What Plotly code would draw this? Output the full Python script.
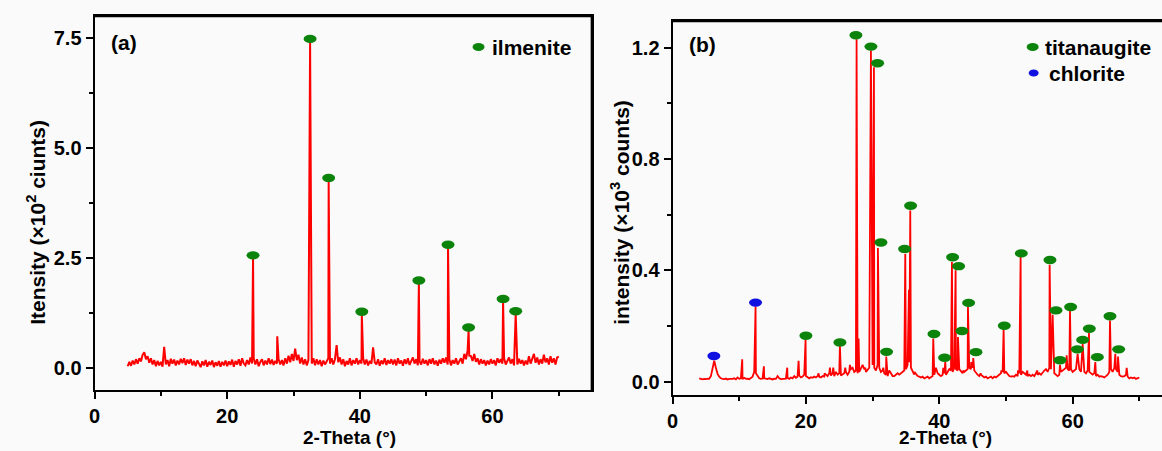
import plotly.graph_objects as go

# ---------------- Panel (a): ilmenite ----------------
a_start, a_step = 5.0, 0.25
a_base = [
    0.04,0.14,0.05,0.17,0.08,0.2,0.1,0.22,0.15,0.3,0.36,0.2,0.27,0.12,0.22,0.08,0.18,0.04,0.16,0.06,
    0.14,0.03,0.48,0.08,0.18,0.04,0.21,0.1,0.19,0.06,0.17,0.08,0.21,0.11,0.22,0.07,0.19,0.1,0.2,0.06,
    0.16,0.04,0.17,0.08,0.02,0.15,0.06,0.18,0.03,0.14,0.07,0.17,0.02,0.13,0.05,0.16,0.03,0.14,0.06,0.17,
    0.04,0.15,0.07,0.19,0.03,0.16,0.08,0.2,0.05,0.22,0.1,0.06,0.18,0.08,0.24,0.1,0.22,0.08,0.2,0.04,
    0.14,0.2,0.06,0.17,0.08,0.22,0.09,0.19,0.07,0.16,0.1,0.2,0.08,0.18,0.06,0.22,0.1,0.28,0.13,0.32,
    0.16,0.44,0.18,0.3,0.1,0.24,0.08,0.2,0.06,0.18,0.22,0.1,0.22,0.06,0.2,0.08,0.18,0.04,0.17,0.08,
    0.16,0.22,0.1,0.22,0.08,0.2,0.52,0.13,0.24,0.08,0.2,0.04,0.16,0.08,0.22,0.06,0.18,0.1,0.22,0.08,
    0.18,0.1,0.22,0.08,0.19,0.06,0.16,0.1,0.47,0.13,0.08,0.2,0.05,0.17,0.09,0.22,0.07,0.18,0.1,0.2,
    0.08,0.19,0.06,0.22,0.1,0.17,0.05,0.2,0.09,0.22,0.07,0.18,0.24,0.1,0.2,0.06,0.16,0.08,0.21,0.1,
    0.18,0.06,0.2,0.1,0.22,0.08,0.17,0.05,0.19,0.1,0.22,0.12,0.24,0.08,0.2,0.06,0.18,0.1,0.22,0.08,
    0.17,0.22,0.1,0.32,0.2,0.4,0.28,0.27,0.16,0.32,0.14,0.22,0.08,0.2,0.1,0.18,0.06,0.17,0.08,0.2,
    0.1,0.18,0.06,0.22,0.12,0.2,0.1,0.22,0.08,0.18,0.24,0.1,0.2,0.06,0.17,0.08,0.21,0.1,0.18,0.06,
    0.17,0.08,0.27,0.1,0.22,0.32,0.12,0.24,0.08,0.2,0.1,0.3,0.13,0.22,0.08,0.27,0.12,0.22,0.08,0.24,
    0.26,
]
a_peak_x = [23.9, 27.55, 32.5, 35.3, 40.3, 48.9, 53.3, 56.4, 61.6, 63.5]
a_peak_h = [2.5, 0.72, 7.42, 4.25, 1.22, 1.93, 2.74, 0.86, 1.51, 1.23]
a_mark_x = [23.9, 32.5, 35.3, 40.3, 48.9, 53.3, 56.4, 61.6, 63.5]
a_mark_y = [2.56, 7.48, 4.32, 1.28, 1.99, 2.80, 0.92, 1.57, 1.29]

# ---------------- Panel (b): titanaugite / chlorite ----------------
b_start, b_step = 4.0, 0.25
b_base = [
    0.012,0.01,0.008,0.01,0.009,0.011,0.01,0.02,0.045,0.075,0.05,0.028,0.018,0.012,0.01,0.009,0.011,0.008,0.01,0.009,
    0.01,0.012,0.008,0.015,0.01,0.012,0.009,0.014,0.01,0.011,0.009,0.012,0.018,0.035,0.03,0.02,0.012,0.01,0.011,0.012,
    0.011,0.009,0.012,0.01,0.008,0.011,0.01,0.02,0.012,0.009,0.01,0.012,0.011,0.013,0.01,0.015,0.012,0.02,0.014,0.018,
    0.022,0.015,0.018,0.025,0.02,0.015,0.012,0.016,0.014,0.018,0.015,0.02,0.017,0.015,0.02,0.018,0.025,0.02,0.03,0.022,
    0.03,0.02,0.035,0.025,0.03,0.022,0.025,0.03,0.035,0.025,0.035,0.045,0.05,0.035,0.04,0.03,0.035,0.05,0.035,0.045,
    0.035,0.045,0.05,0.07,0.06,0.05,0.04,0.06,0.05,0.035,0.04,0.03,0.025,0.02,0.025,0.03,0.02,0.02,0.025,0.03,
    0.025,0.03,0.035,0.04,0.045,0.06,0.07,0.05,0.035,0.025,0.03,0.02,0.018,0.015,0.018,0.012,0.015,0.018,0.012,0.015,
    0.02,0.025,0.045,0.03,0.025,0.02,0.025,0.03,0.025,0.035,0.045,0.04,0.035,0.05,0.045,0.04,0.045,0.035,0.03,0.035,
    0.04,0.045,0.05,0.045,0.05,0.04,0.03,0.025,0.02,0.025,0.018,0.015,0.018,0.012,0.015,0.018,0.012,0.018,0.015,0.02,
    0.025,0.03,0.035,0.03,0.035,0.025,0.02,0.018,0.02,0.018,0.025,0.02,0.03,0.025,0.035,0.03,0.025,0.02,0.025,0.02,
    0.025,0.02,0.03,0.025,0.03,0.025,0.035,0.04,0.045,0.035,0.05,0.045,0.035,0.03,0.025,0.02,0.025,0.035,0.04,0.045,
    0.05,0.045,0.04,0.045,0.035,0.04,0.045,0.05,0.045,0.035,0.04,0.035,0.03,0.04,0.035,0.03,0.025,0.03,0.02,0.025,
    0.018,0.02,0.018,0.015,0.02,0.025,0.035,0.045,0.035,0.05,0.045,0.035,0.025,0.02,0.018,0.02,0.025,0.018,0.012,0.015,
    0.012,0.015,0.01,0.012,0.015,
]
b_peak_x = [10.45, 12.45, 13.7, 17.2, 18.9, 19.95, 21.9, 22.8, 23.6, 24.1, 25.1, 25.9, 26.6,
            27.6, 27.9, 28.5, 28.9, 29.75, 30.2, 30.8, 31.6, 32.05, 32.5, 34.9, 35.45, 35.65,
            36.3, 39.1, 39.5, 40.6, 40.9, 41.9, 42.45, 42.8, 43.6, 44.3, 44.8, 45.1, 46.2,
            49.3, 49.65, 51.8, 52.2, 53.2, 54.7, 56.55, 57.0, 58.1, 59.1, 59.6, 60.75, 61.5,
            62.45, 63.4, 65.6, 66.4, 66.8, 68.1]
b_peak_h = [0.08, 0.27, 0.055, 0.05, 0.075, 0.15, 0.03, 0.03, 0.05, 0.05, 0.13, 0.05, 0.06,
            1.23, 0.155, 0.06, 0.05, 1.19, 1.13, 0.48, 0.05, 0.09, 0.04, 0.46, 0.33, 0.615,
            0.035, 0.155, 0.05, 0.05, 0.07, 0.43, 0.40, 0.16, 0.04, 0.27, 0.07, 0.085, 0.03,
            0.04, 0.19, 0.04, 0.45, 0.04, 0.04, 0.42, 0.24, 0.06, 0.095, 0.255, 0.10, 0.135,
            0.175, 0.07, 0.22, 0.10, 0.09, 0.05]
b_green_x = [20.0, 25.1, 27.5, 29.75, 30.75, 31.25, 32.1, 34.8, 35.7, 39.2, 40.8, 42.0, 42.9, 43.4,
             44.4, 45.5, 49.75, 52.3, 56.6, 57.5, 58.1, 59.7, 60.7, 61.5, 62.5, 63.7, 65.6, 66.9]
b_green_y = [0.165, 0.141, 1.245, 1.204, 1.144, 0.50, 0.107, 0.477, 0.632, 0.171, 0.086, 0.447,
             0.415, 0.182, 0.283, 0.106, 0.201, 0.461, 0.437, 0.256, 0.077, 0.268, 0.116, 0.15,
             0.19, 0.088, 0.235, 0.116]
b_blue_x = [6.2, 12.45]
b_blue_y = [0.092, 0.284]

# ---------------- labels ----------------
x_title = "2-Theta (°)"
a_y_title = "Itensity (×10<sup>2</sup> ciunts)"
b_y_title = "intensity (×10<sup>3</sup> counts)"
a_label, b_label = "(a)", "(b)"
a_legend = ["ilmenite"]
b_legend = ["titanaugite", "chlorite"]

RED = "#ff0000"
GREEN = "#0c840c"
BLUE = "#1010e0"
FONT = "Liberation Sans, Arial, sans-serif"
W, H = 1162, 451

# plot-area pixel boxes (left, right, top, bottom)
A_BOX = (89, 589, 16, 390)
B_BOX = (670, 1162, 21, 395)


def merge(start, step, base, px, ph):
    pts = {round(start + i * step, 3): v for i, v in enumerate(base)}
    for x, h in zip(px, ph):
        pts[round(x, 3)] = h
    xs = sorted(pts)
    return xs, [pts[x] for x in xs]


ax_x, ax_y = merge(a_start, a_step, a_base, a_peak_x, a_peak_h)
bx_x, bx_y = merge(b_start, b_step, b_base, b_peak_x, b_peak_h)

fig = go.Figure()
fig.add_trace(go.Scatter(x=ax_x, y=ax_y, mode="lines", line=dict(color=RED, width=2),
                         xaxis="x", yaxis="y", showlegend=False, hoverinfo="skip"))
fig.add_trace(go.Scatter(x=bx_x, y=bx_y, mode="lines", line=dict(color=RED, width=1.8),
                         xaxis="x2", yaxis="y2", showlegend=False, hoverinfo="skip"))


def ell(xref, yref, x, y, color, w=6.5, h=4.2):
    return dict(type="circle", xref=xref, yref=yref, xsizemode="pixel", ysizemode="pixel",
                xanchor=x, yanchor=y, x0=-w, x1=w, y0=-h, y1=h,
                fillcolor=color, line=dict(width=0), layer="above")


def pline(x0, y0, x1, y1):
    return dict(type="line", xref="paper", yref="paper",
                x0=x0 / W, x1=x1 / W, y0=1 - y0 / H, y1=1 - y1 / H,
                line=dict(color="#000000", width=2.6), layer="above")


shapes = [
    pline(A_BOX[0], A_BOX[2], A_BOX[1], A_BOX[2]),   # (a) top
    pline(A_BOX[1], A_BOX[2], A_BOX[1], A_BOX[3]),   # (a) right
    pline(B_BOX[0], B_BOX[2], B_BOX[1], B_BOX[2]),   # (b) top
]

for x, y in zip(a_mark_x, a_mark_y):
    shapes.append(ell("x", "y", x, y, GREEN))
for x, y in zip(b_green_x, b_green_y):
    shapes.append(ell("x2", "y2", x, y, GREEN))
for x, y in zip(b_blue_x, b_blue_y):
    shapes.append(ell("x2", "y2", x, y, BLUE))

# legend ellipses (paper coords, pixel-sized)
shapes.append(ell("paper", "paper", 475 / W, 1 - 47 / H, GREEN, 6, 4))
shapes.append(ell("paper", "paper", 1032 / W, 1 - 47 / H, GREEN, 6, 4))
shapes.append(ell("paper", "paper", 1033 / W, 1 - 73 / H, BLUE, 5, 3.5))

tf = dict(family=FONT, size=21, color="black", weight="bold")
tick_f = dict(family=FONT, size=20, color="black", weight="bold")
xt_f = dict(family=FONT, size=19, color="black", weight="bold")


def ann(text, x, y, xanchor="center", yanchor="middle", angle=0, font=tf):
    return dict(text=text, x=x / W, y=1 - y / H, xref="paper", yref="paper",
                xanchor=xanchor, yanchor=yanchor, showarrow=False, textangle=angle, font=font)


annotations = [
    ann(a_label, 104, 42, "left"),
    ann(b_label, 685, 45, "left"),
    ann(a_legend[0], 487, 47, "left"),
    ann(b_legend[0], 1042, 47, "left"),
    ann(b_legend[1], 1046, 73, "left"),
    ann(x_title, 345, 450, yanchor="bottom", font=xt_f),
    ann(x_title, 944, 450, yanchor="bottom", font=xt_f),
    ann(a_y_title, 30, 222, angle=-90),
    ann(b_y_title, 617, 212, angle=-90),
]

axis_common = dict(showline=True, linecolor="black", linewidth=2, ticks="outside",
                   ticklen=7, tickwidth=1.8, tickcolor="black", showgrid=False, zeroline=False,
                   tickfont=tick_f)
minor_common = dict(ticks="outside", ticklen=4, tickwidth=1.5, tickcolor="black")

fig.update_layout(
    width=W, height=H, autosize=False,
    margin=dict(l=0, r=0, t=0, b=0),
    paper_bgcolor="#fafafa", plot_bgcolor="#fafafa",
    showlegend=False,
    xaxis=dict(domain=[A_BOX[0] / W, A_BOX[1] / W], range=[0, 75], tick0=0, dtick=20,
               mirror=True, minor=dict(dtick=10, **minor_common), anchor="y", **axis_common),
    yaxis=dict(domain=[1 - A_BOX[3] / H, 1 - A_BOX[2] / H], range=[-0.5, 8.0], tick0=0, dtick=2.5,
               tickformat=".1f", anchor="x", mirror=True,
               minor=dict(dtick=1.25, **minor_common), **axis_common),
    xaxis2=dict(domain=[B_BOX[0] / W, 1.0], range=[0, 73.4], tick0=0, dtick=20, mirror=True,
                minor=dict(dtick=10, **minor_common), anchor="y2", **axis_common),
    yaxis2=dict(domain=[1 - B_BOX[3] / H, 1 - B_BOX[2] / H], range=[-0.048, 1.296], tick0=0,
                dtick=0.4, tickformat=".1f", anchor="x2",
                minor=dict(dtick=0.2, **minor_common), **axis_common),
    shapes=shapes,
    annotations=annotations,
)

fig.write_html("out.html")
